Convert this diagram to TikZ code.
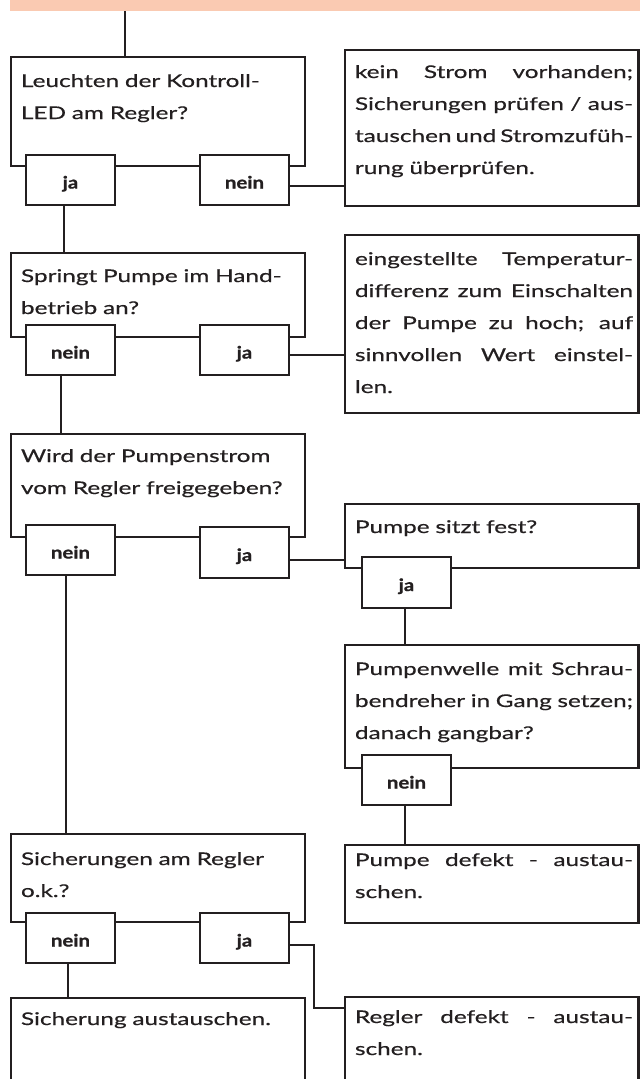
\documentclass[tikz,border=0pt]{standalone}
\usepackage{fontspec}
\setmainfont{Lato}[FakeStretch=1.39,FakeBold=0.5]
\newfontfamily\labfont{Lato}[FakeStretch=1.2,BoldFeatures={FakeBold=1}]
\usetikzlibrary{calc}
\definecolor{banner}{RGB}{250,202,178}
\definecolor{ink}{RGB}{35,31,32}
\newcommand\jl[1]{\makebox[278pt][s]{\spaceskip=\fontdimen2\font plus 1fil minus 0.6\fontdimen2\font\relax #1}}
\begin{document}
\begin{tikzpicture}[x=1pt,y=-1pt,
  box/.style={draw=ink,line width=2.6pt,fill=white,anchor=north west,inner sep=0pt,outer sep=0pt},
  ans/.style={draw=ink,line width=2.6pt,fill=white,anchor=north west,inner sep=0pt,outer sep=0pt,
    minimum width=89pt,minimum height=50pt,text height=17pt,text depth=0pt,
    font=\labfont\fontsize{17}{19}\selectfont\bfseries,text=ink},
  txt/.style={anchor=base west,inner sep=0pt,outer sep=0pt,text width=284pt,align=left,
    font=\fontsize{17.5}{32}\selectfont,text=ink},
  con/.style={draw=ink,line width=2.8pt}]
\useasboundingbox (0,0) rectangle (640,1079);
\clip (0,0) rectangle (640,1079);
% banner
\node[fill=banner,anchor=north west,inner sep=0pt,outer sep=0pt,minimum width=630pt,minimum height=11pt] (ban) at (10,0) {};
% connector points
\coordinate (c0) at (125,11);
\coordinate (c1) at (64,204);
\coordinate (c2) at (288,186);
\coordinate (c3) at (288,355);
\coordinate (c4) at (61,375);
\coordinate (c5) at (288,560);
\coordinate (c6) at (405,608);
\coordinate (c7) at (405,805);
\coordinate (c8) at (66,575);
\coordinate (c9) at (68,963);
\coordinate (c10) at (288,945);
\coordinate (c11) at (314,1008);
% boxes
\node[box,minimum width=294pt,minimum height=109pt] (q1) at (11,57) {};
\node[box,minimum width=293.5pt,minimum height=156pt] (r1) at (345,50) {};
\node[box,minimum width=294pt,minimum height=84pt] (q2) at (11,253) {};
\node[box,minimum width=293.5pt,minimum height=178pt] (r2) at (345,235) {};
\node[box,minimum width=294pt,minimum height=103pt] (q3) at (11,434) {};
\node[box,minimum width=293.5pt,minimum height=64pt] (p1) at (345,504) {};
\node[box,minimum width=293.5pt,minimum height=123pt] (p2) at (345,645) {};
\node[box,minimum width=293.5pt,minimum height=78pt] (p3) at (345,845) {};
\node[box,minimum width=294pt,minimum height=88pt] (q4) at (11,834) {};
\node[box,minimum width=294pt,minimum height=110pt] (s1) at (11,998) {};
\node[box,minimum width=293.5pt,minimum height=110pt] (r3) at (345,997) {};
% connectors
\draw[con] (c0) -- (c0 |- q1.north);
\draw[con] (c1) -- (c1 |- q2.north);
\draw[con] (c2) -- (c2 -| r1.west);
\draw[con] (c3) -- (c3 -| r2.west);
\draw[con] (c4) -- (c4 |- q3.north);
\draw[con] (c5) -- (c5 -| p1.west);
\draw[con] (c6) -- (c6 |- p2.north);
\draw[con] (c7) -- (c7 |- p3.north);
\draw[con] (c8) -- (c8 |- q4.north);
\draw[con] (c9) -- (c9 |- s1.north);
\draw[con] (c10) -| (c11) -- (c11 -| r3.west);
% answer boxes
\node[ans] (y1) at (26,155) {ja};
\node[ans] (n1) at (200,155) {nein};
\node[ans] (n2) at (26,325) {nein};
\node[ans] (y2) at (200,325) {ja};
\node[ans] (n3) at (26,525) {nein};
\node[ans,minimum height=51pt] (y3) at (200,527) {ja};
\node[ans,minimum height=51pt] (y4) at (362,557) {ja};
\node[ans] (n4) at (362,755) {nein};
\node[ans] (n5) at (26,913) {nein};
\node[ans] (y5) at (200,913) {ja};
% texts
\node[txt] (t1) at (21,87) {Leuchten der Kontroll-\\LED am Regler?};
\node[txt] (t2) at (355,78) {\jl{kein Strom vorhanden;}\\\jl{Sicherungen prüfen / aus-}\\\jl{tauschen und Stromzufüh-}\\rung überprüfen.};
\node[txt] (t3) at (21,282) {Springt Pumpe im Hand-\\betrieb an?};
\node[txt] (t4) at (355,265) {\jl{eingestellte Temperatur-}\\\jl{differenz zum Einschalten}\\\jl{der Pumpe zu hoch; auf}\\\jl{sinnvollen Wert einstel-}\\len.};
\node[txt] (t5) at (21,462) {Wird der Pumpenstrom\\vom Regler freigegeben?};
\node[txt] (t6) at (355,533) {Pumpe sitzt fest?};
\node[txt] (t7) at (355,675) {\jl{Pumpenwelle mit Schrau-}\\\jl{bendreher in Gang setzen;}\\danach gangbar?};
\node[txt] (t8) at (355,866) {\jl{Pumpe defekt - austau-}\\schen.};
\node[txt] (t9) at (21,865) {Sicherungen am Regler\\o.k.?};
\node[txt] (t10) at (21,1025) {Sicherung austauschen.};
\node[txt] (t11) at (355,1023) {\jl{Regler defekt - austau-}\\schen.};
\end{tikzpicture}
\end{document}
